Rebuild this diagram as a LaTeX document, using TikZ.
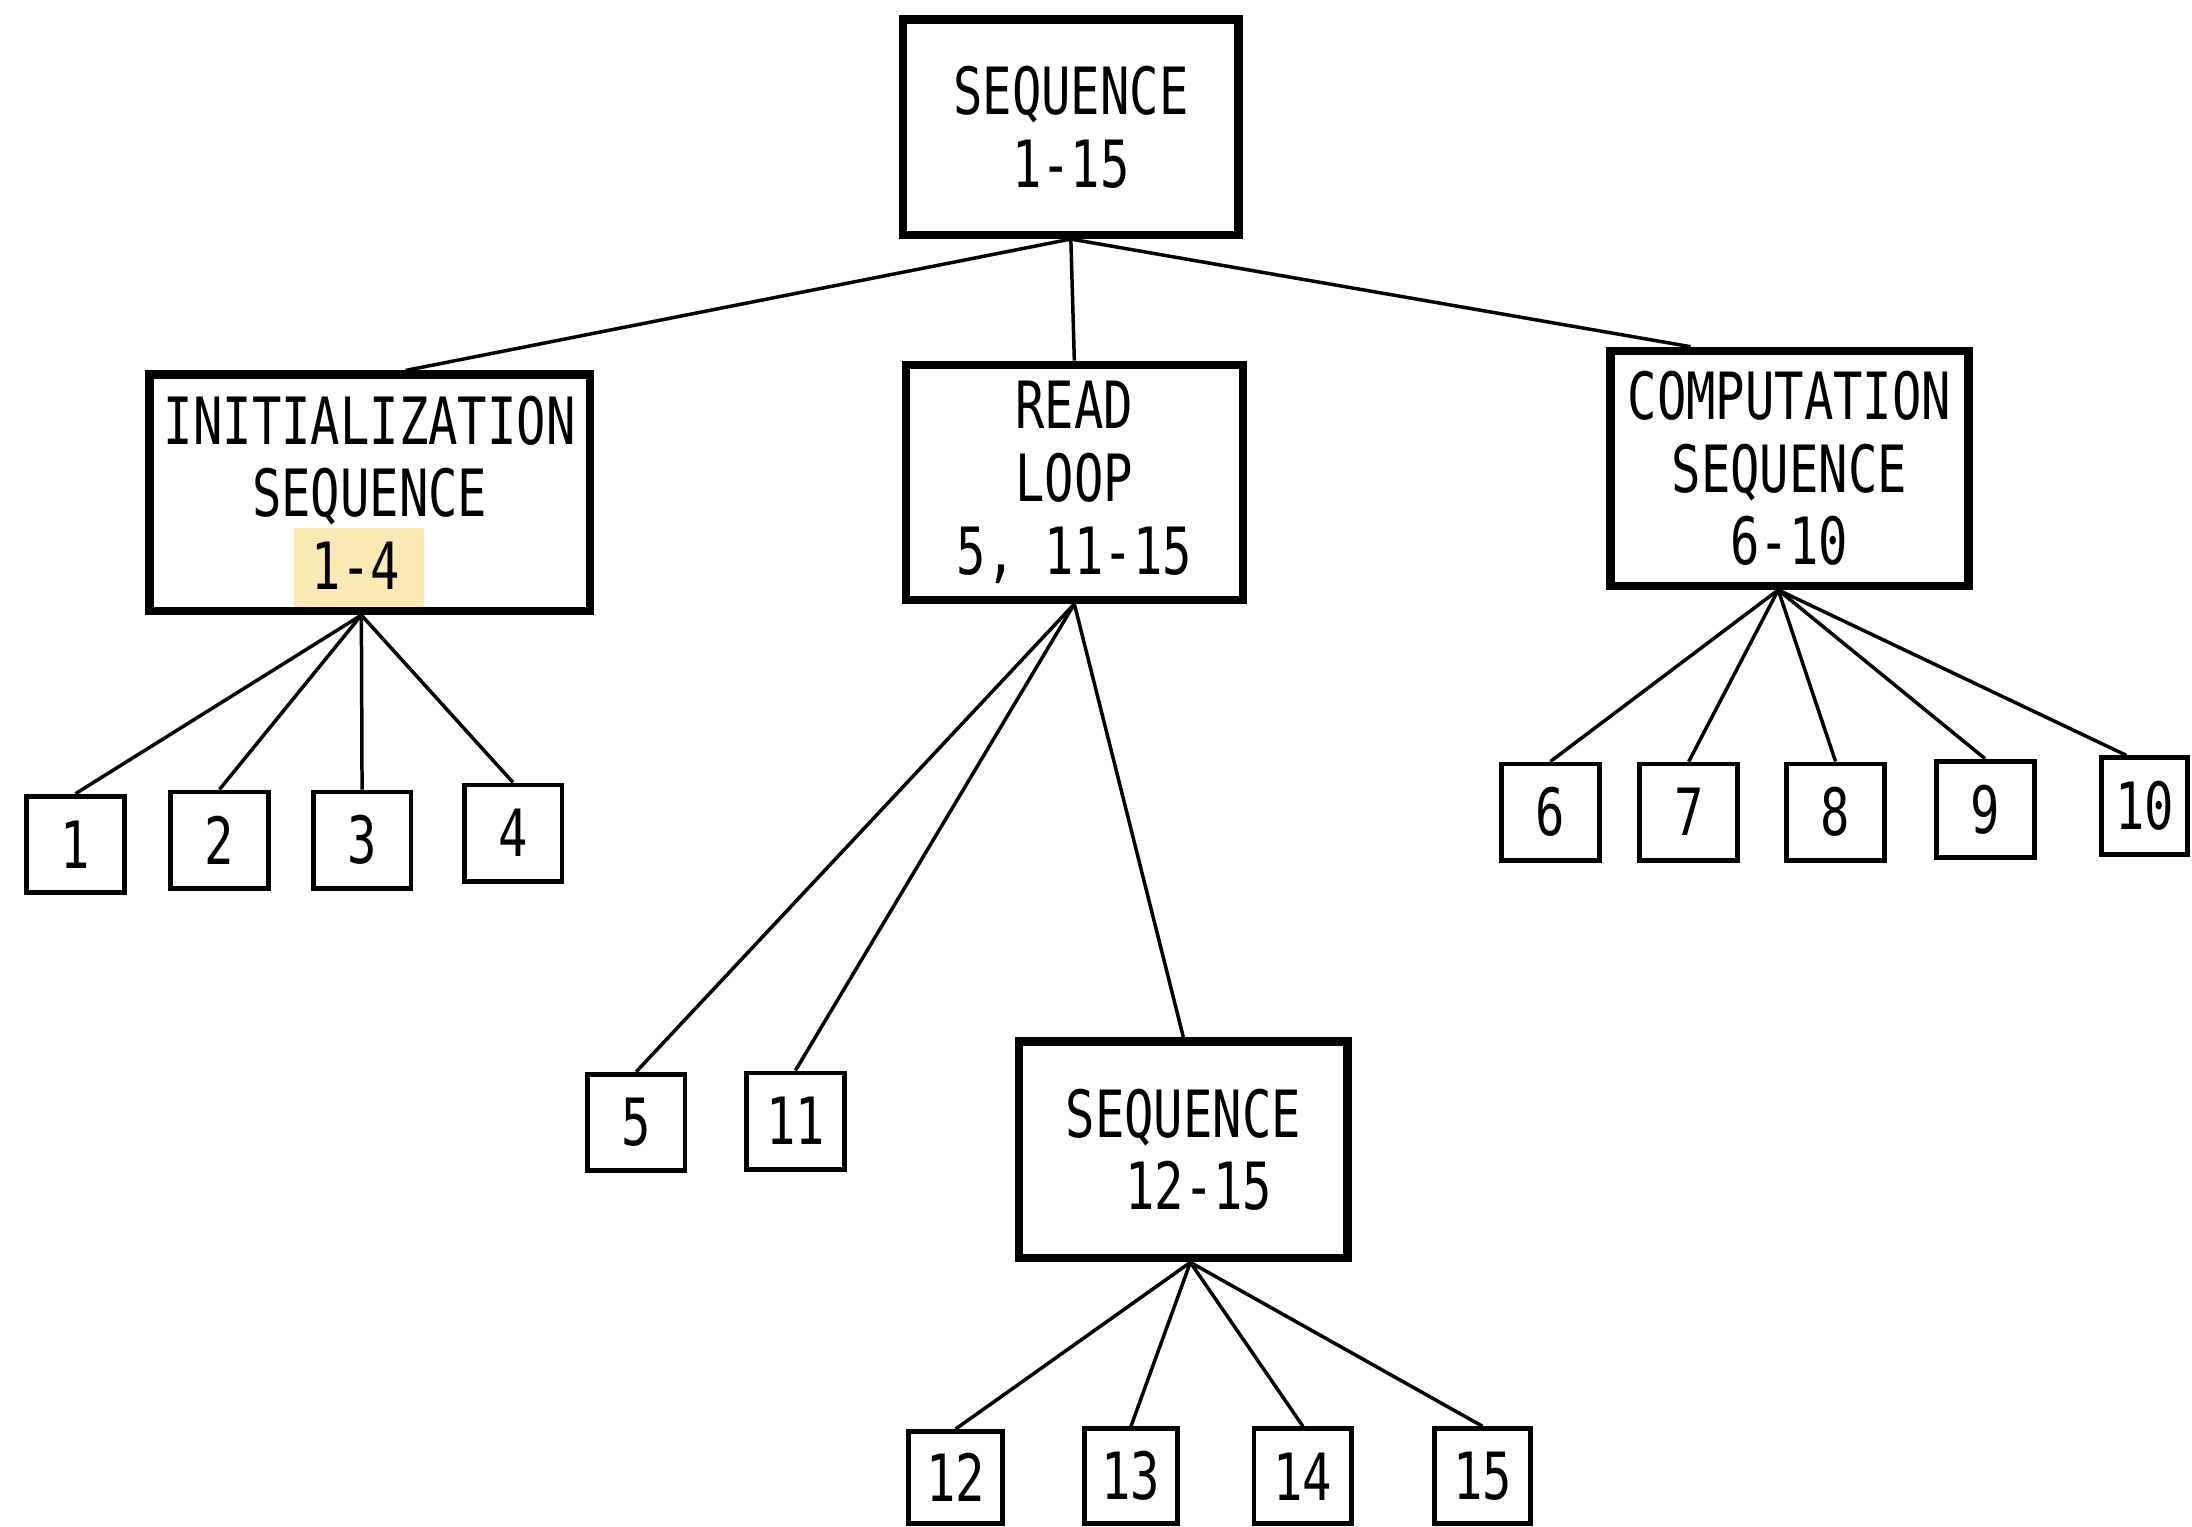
\documentclass[tikz,border=0pt]{standalone}
\usepackage{fontspec}
\newfontfamily\plotfont[FakeStretch=0.75]{DejaVu Sans Mono}
\usetikzlibrary{calc}
\definecolor{hl}{RGB}{252,234,180}
\begin{document}
\begin{tikzpicture}[x=1pt,y=-1pt,
  every node/.style={font=\plotfont\fontsize{46.6}{52}\selectfont, inner sep=0pt, align=center},
  bigbox/.style={draw, line width=6pt},
  leafbox/.style={draw, line width=3.5pt, minimum width=70pt, minimum height=69pt},
  conn/.style={line width=2.5pt}]
\useasboundingbox (0,0) rectangle (1568,1092);
% highlight behind "1-4"
\fill[hl] (210,378) rectangle (303,435);
% main boxes
\node[bigbox, minimum width=240pt, minimum height=154pt] (top) at (766,91) {SEQUENCE\\1-15};
\node[bigbox, minimum width=315pt, minimum height=169pt] (init) at (264.5,352.5) {INITIALIZATION\\SEQUENCE\\1-4\hspace*{20pt}};
\node[bigbox, minimum width=241pt, minimum height=168pt] (read) at (768.5,345) {READ\\LOOP\\5, 11-15};
\node[bigbox, minimum width=256pt, minimum height=168pt] (comp) at (1280,335) {COMPUTATION\\SEQUENCE\\6-10};
\node[bigbox, minimum width=235pt, minimum height=155pt] (seq) at (846.5,822.5) {SEQUENCE\\\hspace*{22pt}12-15};
% leaves
\node[leafbox] (l1) at (54,604) {1};
\node[leafbox] (l2) at (157,601) {2};
\node[leafbox] (l3) at (259,601) {3};
\node[leafbox] (l4) at (367,596) {4};
\node[leafbox] (l5) at (455,803) {5};
\node[leafbox] (l11) at (569,802) {11};
\node[leafbox] (l6) at (1109,581) {6};
\node[leafbox] (l7) at (1208,581) {7};
\node[leafbox] (l8) at (1313,581) {8};
\node[leafbox] (l9) at (1420,579) {9};
\node[leafbox, minimum width=62pt] (l10) at (1534,576.5) {10};
\node[leafbox, minimum width=67pt, minimum height=66pt] (l12) at (683.5,1057) {12};
\node[leafbox, minimum width=66pt, minimum height=68pt] (l13) at (809,1056) {13};
\node[leafbox, minimum width=70pt, minimum height=68pt] (l14) at (932,1056) {14};
\node[leafbox, minimum width=69pt, minimum height=68pt] (l15) at (1060.5,1056) {15};
% connectors
\draw[conn] (top.south) -- ($(init.north west)!0.58!(init.north east)$);
\draw[conn] (top.south) -- (read.north);
\draw[conn] (top.south) -- ($(comp.north west)!0.23!(comp.north east)$);
\coordinate (ih) at ($(init.south)+(-6,0)$);
\foreach \n in {l1,l2,l3,l4} \draw[conn] (ih) -- (\n.north);
\foreach \n in {l5,l11,seq} \draw[conn] (read.south) -- (\n.north);
\coordinate (ch) at ($(comp.south)+(-8,0)$);
\foreach \n in {l6,l7,l8,l9} \draw[conn] (ch) -- (\n.north);
\draw[conn] (ch) -- ($(l10.north west)!0.3!(l10.north east)$);
\coordinate (sh) at ($(seq.south)+(5,0)$);
\foreach \n in {l12,l13,l14,l15} \draw[conn] (sh) -- (\n.north);
\end{tikzpicture}
\end{document}
